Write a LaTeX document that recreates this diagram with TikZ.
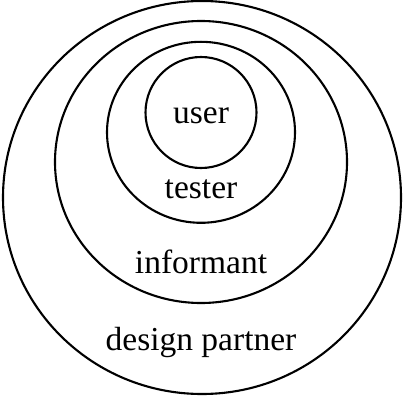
\documentclass[tikz,border=0pt]{standalone}
\usepackage{fontspec}
\setmainfont{Liberation Serif}
\usetikzlibrary{shapes.geometric}

\begin{document}
\begin{tikzpicture}[
  x=1pt, y=-1pt,
  ring/.style={draw, ellipse, line width=2.1pt, inner sep=0pt, outer sep=0pt},
  lbl/.style={anchor=base, inner sep=0pt, font=\fontsize{33.5}{38}\selectfont}
]
  \useasboundingbox (0,0) rectangle (411,404);

  \node[ring, minimum width=398pt, minimum height=393pt] (partner) at (202,197.5) {};
  \node[ring, minimum width=292pt, minimum height=282pt] (informant) at (201,162) {};
  \node[ring, minimum width=188pt, minimum height=181pt] (tester) at (201,132.3) {};
  \node[ring, minimum width=111pt, minimum height=111pt] (user) at (201,112.5) {};

  \node[lbl] (userlbl) at (201,123) {user};
  \node[lbl] (testerlbl) at (201,198) {tester};
  \node[lbl] (informantlbl) at (201,273.5) {informant};
  \node[lbl] (partnerlbl) at (201,350.5) {design partner};
\end{tikzpicture}
\end{document}
